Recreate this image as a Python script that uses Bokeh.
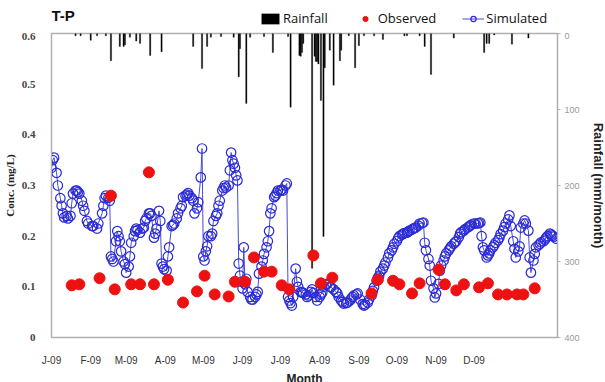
from bokeh.plotting import figure
from bokeh.layouts import column
from bokeh.models import Range1d, LinearAxis, FixedTicker, Legend, LegendItem, Label
from bokeh.embed import file_html
from bokeh.resources import INLINE

# ---- data (day index from 1 Jan 2009) ----
month_ticks = [0, 31, 59, 90, 120, 151, 181, 212, 243, 273, 304, 334]
month_labels = ["J-09", "F-09", "M-09", "A-09", "M-09", "J-09", "J-09",
                "A-09", "S-09", "O-09", "N-09", "D-09"]

rain_day = [19, 23, 31, 36, 43, 47, 54, 57, 58, 62, 67, 70, 78, 87, 112, 119, 123,
            126, 134, 144, 148, 149, 154, 157, 168, 175, 187, 189, 196, 197, 198,
            199, 206, 208, 209, 210, 211, 213, 215, 216, 220, 223, 228, 229, 235,
            240, 243, 247, 255, 262, 279, 281, 291, 295, 300, 318, 342, 344, 346,
            350, 364, 377]
rain_mm = [3, 3, 9, 3, 3, 36, 17, 17, 15, 5, 10, 13, 29, 24, 17, 46, 17,
           5, 4, 5, 57, 20, 92, 5, 4, 25, 4, 97, 29, 30, 25,
           13, 309, 30, 37, 37, 40, 88, 267, 45, 22, 68, 36, 22, 3,
           45, 16, 3, 3, 8, 3, 3, 3, 17, 54, 6, 25, 13, 13,
           2, 14, 6]

obs_day = [16, 22, 38, 47, 50, 63, 70, 77, 81, 92, 104, 115, 121, 129, 140, 145,
           153, 160, 168, 174, 182, 188, 207, 213, 222, 253, 258, 270, 275, 285,
           291, 306, 311, 320, 326, 338, 345, 353, 360, 368, 373, 382]
obs_conc = [0.103, 0.105, 0.117, 0.280, 0.095, 0.105, 0.105, 0.326, 0.105, 0.114,
            0.069, 0.091, 0.122, 0.085, 0.081, 0.110, 0.110, 0.158, 0.130, 0.130,
            0.103, 0.095, 0.162, 0.107, 0.118, 0.087, 0.114, 0.112, 0.105, 0.087,
            0.107, 0.134, 0.105, 0.093, 0.105, 0.099, 0.107, 0.085, 0.085, 0.085,
            0.085, 0.097]

sim_day = [0, 1, 2, 4, 5, 7, 8, 9, 10, 12, 13, 15, 16, 17, 19, 20, 21, 22, 24, 25,
           26, 28, 29, 32, 33, 36, 37, 40, 41, 42, 43, 45, 46, 47, 48, 49, 51, 52,
           53, 54, 55, 57, 58, 59, 61, 62, 63, 65, 66, 67, 68, 70, 72, 73, 74, 75,
           77, 78, 79, 81, 82, 83, 85, 86, 87, 88, 89, 91, 92, 93, 95, 96, 97, 99,
           100, 102, 103, 104, 106, 107, 108, 109, 111, 112, 113, 115, 116, 118,
           119, 120, 121, 122, 123, 124, 126, 127, 128, 130, 131, 132, 133, 135,
           136, 137, 138, 140, 141, 142, 143, 144, 145, 146, 147, 148, 149, 150,
           151, 152, 153, 154, 155, 157, 158, 159, 161, 162, 163, 164, 166, 167,
           168, 170, 171, 172, 173, 174, 176, 177, 178, 179, 181, 182, 183, 185,
           186, 187, 188, 189, 190, 191, 193, 194, 195, 197, 198, 199, 201, 202,
           203, 205, 206, 207, 209, 210, 212, 213, 214, 215, 217, 218, 220, 221,
           223, 225, 226, 227, 229, 230, 231, 233, 234, 236, 237, 238, 239, 241,
           242, 244, 246, 247, 248, 250, 251, 253, 254, 255, 257, 258, 259, 260,
           262, 263, 264, 266, 267, 269, 270, 271, 273, 274, 275, 277, 278, 279,
           281, 282, 283, 285, 286, 287, 288, 290, 291, 293, 294, 295, 296, 298,
           299, 300, 302, 303, 304, 306, 307, 308, 310, 311, 312, 314, 315, 316,
           318, 319, 320, 322, 323, 324, 326, 327, 329, 330, 331, 332, 334, 335,
           337, 338, 339, 340, 341, 342, 344, 345, 346, 347, 349, 350, 351, 353,
           354, 355, 357, 358, 359, 361, 362, 363, 365, 366, 367, 369, 370, 371,
           373, 374, 375, 377, 378, 379, 381, 382, 383, 385, 386, 387, 389, 390,
           391, 392, 394, 395, 396, 397, 399]
sim_conc = [0.335, 0.35, 0.355, 0.325, 0.30, 0.275, 0.26, 0.245, 0.237, 0.24, 0.235,
            0.24, 0.265, 0.284, 0.29, 0.29, 0.287, 0.284, 0.27, 0.26,
            0.25, 0.23, 0.225, 0.22, 0.22, 0.215, 0.225, 0.245, 0.26, 0.275, 0.28,
            0.276, 0.27, 0.16, 0.155, 0.15, 0.19, 0.21,
            0.2, 0.19, 0.17, 0.15, 0.145, 0.128, 0.14, 0.16, 0.187, 0.2, 0.21, 0.215,
            0.212, 0.207, 0.215, 0.217, 0.23, 0.235,
            0.245, 0.245, 0.24, 0.197, 0.205, 0.215, 0.25, 0.23, 0.146, 0.14, 0.135,
            0.132, 0.16, 0.178, 0.22, 0.222, 0.225, 0.235,
            0.245, 0.255, 0.26, 0.277, 0.28, 0.282, 0.285, 0.28, 0.275, 0.27, 0.245,
            0.255, 0.267, 0.316,
            0.373, 0.16, 0.152, 0.17, 0.18, 0.2, 0.2, 0.205, 0.23, 0.24, 0.245, 0.26,
            0.27, 0.29,
            0.295, 0.3, 0.296, 0.3, 0.33, 0.365, 0.35, 0.343, 0.335, 0.32, 0.31, 0.146,
            0.122, 0.11,
            0.097, 0.178, 0.105, 0.116, 0.09, 0.08, 0.075, 0.075, 0.08, 0.085, 0.09,
            0.126, 0.14, 0.152,
            0.165, 0.178, 0.19, 0.21, 0.245, 0.255, 0.277, 0.28, 0.285, 0.29, 0.29,
            0.292, 0.29, 0.30,
            0.304, 0.08, 0.073, 0.068, 0.063, 0.08, 0.136, 0.11, 0.1, 0.09, 0.089,
            0.088, 0.085, 0.08,
            0.083, 0.09, 0.095, 0.088, 0.08, 0.073, 0.08, 0.085, 0.089, 0.1, 0.104,
            0.106, 0.1, 0.099,
            0.095, 0.09, 0.087, 0.08, 0.073, 0.07, 0.067, 0.068, 0.069, 0.073, 0.077,
            0.08, 0.083, 0.085,
            0.087, 0.075, 0.066, 0.063, 0.065, 0.069, 0.075, 0.083, 0.092, 0.099,
            0.112, 0.118, 0.122, 0.13,
            0.136, 0.142, 0.148, 0.158, 0.166, 0.172, 0.178, 0.185, 0.19, 0.196, 0.2,
            0.203, 0.205, 0.206,
            0.207, 0.209, 0.211, 0.213, 0.215, 0.216, 0.217, 0.221, 0.225, 0.226,
            0.227, 0.187, 0.172, 0.155,
            0.142, 0.112, 0.097, 0.079, 0.087, 0.106, 0.132, 0.142, 0.152, 0.16,
            0.166, 0.172, 0.176, 0.18,
            0.185, 0.188, 0.19, 0.198, 0.205, 0.208, 0.211, 0.214, 0.217, 0.219,
            0.221, 0.223, 0.225, 0.225,
            0.225, 0.226, 0.227, 0.2, 0.178, 0.172, 0.158, 0.162, 0.166, 0.172, 0.178,
            0.182, 0.187, 0.192,
            0.197, 0.204, 0.211, 0.218, 0.225, 0.233, 0.241, 0.22, 0.19, 0.175, 0.158,
            0.17, 0.18, 0.217,
            0.225, 0.231, 0.225, 0.211, 0.158, 0.128, 0.152, 0.165, 0.178, 0.182,
            0.185, 0.188, 0.19, 0.193,
            0.197, 0.2, 0.205, 0.203, 0.201, 0.199, 0.195]

conc_ticks = [0, 0.1, 0.2, 0.3, 0.4, 0.5, 0.6]
rain_ticks = [0, 100, 200, 300, 400]

# ---- styles ----
RAIN_STYLE = dict(fill_color="black", line_color="black", line_width=0.3)
SIM_LINE_STYLE = dict(line_color="#4a4ad0", line_width=1)
SIM_PT_STYLE = dict(marker="circle", size=9.5, line_color="#2a2ad6",
                    line_width=1.2, fill_alpha=0)
OBS_STYLE = dict(marker="circle", size=11, fill_color="#ee1111",
                 line_color="#ee1111")

# ---- header strip: title + legend (legend proxies sit outside the view) ----
head = figure(width=605, height=32, output_backend="svg", toolbar_location=None,
              x_range=Range1d(0, 560), y_range=Range1d(0, 32),
              min_border_left=45, min_border_right=0,
              min_border_top=0, min_border_bottom=0)
head.axis.visible = False
head.grid.visible = False
head.outline_line_color = None
head.background_fill_color = "white"
head.border_fill_color = "white"

h_rain = head.vbar(x=[-500], top=[-500], bottom=[-499], width=1, **RAIN_STYLE)
h_obs = head.scatter(x=[-500], y=[-500], **OBS_STYLE)
h_line = head.line(x=[-500, -499], y=[-500, -500], **SIM_LINE_STYLE)
h_pts = head.scatter(x=[-500], y=[-500], **SIM_PT_STYLE)

legend = Legend(items=[
    LegendItem(label="Rainfall", renderers=[h_rain]),
    LegendItem(label="Observed", renderers=[h_obs]),
    LegendItem(label="Simulated", renderers=[h_line, h_pts]),
], orientation="horizontal", location=(208, 5))
legend.border_line_color = None
legend.background_fill_alpha = 0
legend.label_text_font = "Open Sans"
legend.label_text_font_size = "13px"
legend.label_text_color = "#111111"
legend.glyph_width = 22
legend.glyph_height = 13
legend.label_standoff = 2
legend.spacing = 26
legend.padding = 2
legend.margin = 0
head.add_layout(legend)

head.add_layout(Label(x=0, y=17, text="T-P", text_font="Liberation Sans",
                      text_font_size="15px", text_font_style="bold",
                      text_color="#111111", text_baseline="middle"))

# ---- main figure ----
p = figure(frame_width=506, frame_height=304, output_backend="svg",
           toolbar_location=None,
           x_range=Range1d(0, 400), y_range=Range1d(0, 0.6),
           min_border_left=45, min_border_right=54, min_border_top=1,
           min_border_bottom=45)
p.background_fill_color = "white"
p.border_fill_color = "white"
p.outline_line_color = "#b0b0b0"
p.outline_line_width = 1.5
p.xgrid.visible = False
p.ygrid.visible = False

p.extra_y_ranges = {"rain": Range1d(400, 0)}

# x axis
xa = p.xaxis[0]
xa.ticker = FixedTicker(ticks=month_ticks)
xa.major_label_overrides = {t: l for t, l in zip(month_ticks, month_labels)}
xa.major_tick_line_color = None
xa.minor_tick_line_color = None
xa.axis_line_color = "#b0b0b0"
xa.major_label_text_font = "Liberation Sans"
xa.major_label_text_font_size = "10px"
xa.major_label_text_color = "#333333"
xa.major_label_standoff = 11
xa.axis_label = "Month"
xa.axis_label_text_font = "Liberation Sans"
xa.axis_label_text_font_size = "12px"
xa.axis_label_text_font_style = "bold"
xa.axis_label_text_color = "#222222"
xa.axis_label_standoff = 3

# left axis
ya = p.yaxis[0]
ya.ticker = FixedTicker(ticks=conc_ticks)
ya.major_label_overrides = {0: "0"}
ya.major_tick_line_color = None
ya.minor_tick_line_color = None
ya.axis_line_color = "#b0b0b0"
ya.major_label_text_font = "Liberation Serif"
ya.major_label_text_font_style = "bold"
ya.major_label_text_font_size = "11px"
ya.major_label_text_color = "#444444"
ya.major_label_standoff = 10
ya.axis_label = "Conc. (mg/L)"
ya.axis_label_text_font = "Liberation Serif"
ya.axis_label_text_font_size = "11px"
ya.axis_label_text_font_style = "bold"
ya.axis_label_text_color = "#222222"
ya.axis_label_standoff = 3

# right axis (rainfall, inverted)
ra = LinearAxis(y_range_name="rain", ticker=FixedTicker(ticks=rain_ticks))
ra.axis_line_color = "#b0b0b0"
ra.major_tick_line_color = "#b0b0b0"
ra.major_tick_out = 3
ra.major_tick_in = 0
ra.minor_tick_line_color = None
ra.major_label_text_font = "Liberation Sans"
ra.major_label_text_font_size = "9px"
ra.major_label_text_color = "#999999"
ra.major_label_standoff = 4
ra.axis_label = "Rainfall (mm/month)"
ra.axis_label_text_font = "Liberation Sans"
ra.axis_label_text_font_size = "13px"
ra.axis_label_text_font_style = "bold"
ra.axis_label_text_color = "#222222"
ra.axis_label_standoff = 8
p.add_layout(ra, "right")

# ---- glyphs ----
p.vbar(x=rain_day, top=[0] * len(rain_day), bottom=rain_mm, width=1.0,
       y_range_name="rain", **RAIN_STYLE)
p.line(sim_day, sim_conc, **SIM_LINE_STYLE)
p.scatter(sim_day, sim_conc, **SIM_PT_STYLE)
p.scatter(obs_day, obs_conc, **OBS_STYLE)

layout = column(head, p, spacing=0)
open("out.html", "w").write(file_html(layout, INLINE))
